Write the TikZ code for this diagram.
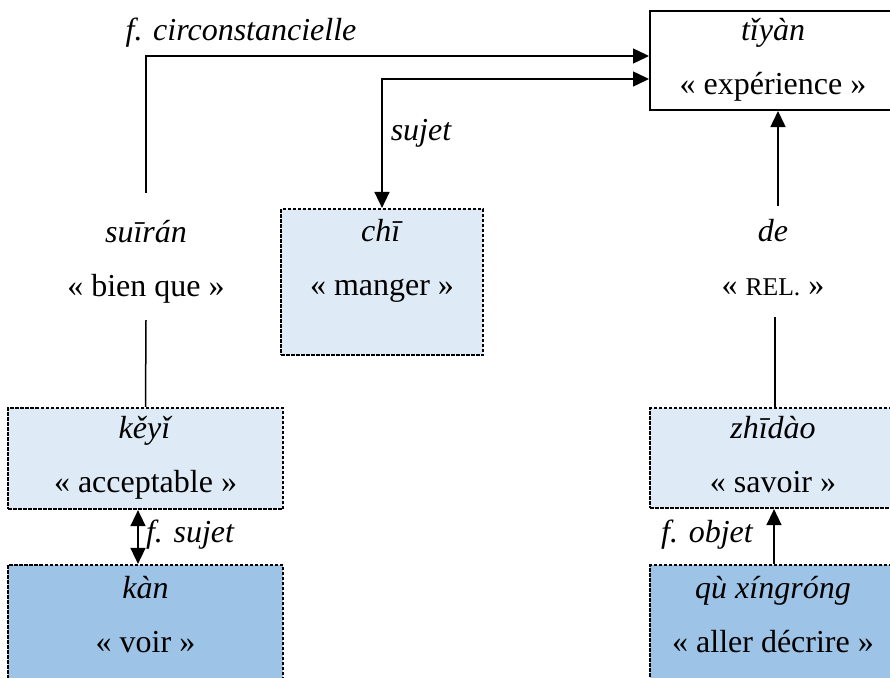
\documentclass[tikz,border=0pt]{standalone}
\usepackage{fontspec}
\setmainfont{Liberation Serif}
\usetikzlibrary{arrows.meta,calc}
\newcommand\stz{\rule[-14pt]{0pt}{42pt}}
\definecolor{lightbox}{HTML}{DEEBF7}
\definecolor{darkbox}{HTML}{9DC3E6}
\begin{document}
\begin{tikzpicture}[x=1pt,y=-1pt,
  txt/.style={font=\fontsize{32}{54}\selectfont, align=center, inner sep=0pt},
  dbox/.style={txt, draw=black, dash pattern=on 3.5pt off 1.5pt, line width=2.2pt},
  light/.style={dbox, fill=lightbox},
  dark/.style={dbox, fill=darkbox},
  lab/.style={font=\fontsize{32}{38}\selectfont\itshape, inner sep=0pt},
  conn/.style={line width=1.5pt},
  tip/.style={},
  arr/.style={conn, -{Triangle[length=16pt,width=15pt]}},
  darr/.style={conn, {Triangle[length=16pt,width=15pt]}-{Triangle[length=16pt,width=15pt]}}]
\path[use as bounding box] (0,0) rectangle (890,677);
\clip (0,0) rectangle (890,677);
\fill[white] (0,0) rectangle (890,677);

% boxes
\node[txt, draw=black, line width=2pt, fill=white, minimum width=246pt, minimum height=99pt] (tiyan) at (773,60.5)
  {\stz\textit{tǐyàn}\\\stz« expérience »};
\node[light, minimum width=202pt, minimum height=146pt] (chi) at (382,282)
  {\stz\textit{chī}\\\rule[-56pt]{0pt}{84pt}« manger »};
\node[light, minimum width=275pt, minimum height=101pt] (keyi) at (145.5,458.5)
  {\stz\textit{kěyǐ}\\\stz« acceptable »};
\node[dark, minimum width=275pt, minimum height=135pt] (kan) at (145.5,632.5)
  {\stz\textit{kàn}\\\rule[-43pt]{0pt}{71pt}« voir »};
\node[light, minimum width=246pt, minimum height=100pt] (zhidao) at (773,458)
  {\stz\textit{zhīdào}\\\stz« savoir »};
\node[dark, minimum width=246pt, minimum height=135pt] (qu) at (773,632.5)
  {\stz\textit{qù xíngróng}\\\rule[-43pt]{0pt}{71pt}« aller décrire »};

% free-standing words
\node[txt, minimum height=127pt] (suiran) at (146,256.5)
  {\rule[-14pt]{0pt}{54pt}\textit{suīrán}\\\stz« bien que »};
\node[txt, minimum height=111pt] (de) at (773,261.5)
  {\stz\textit{de}\\\stz« {\fontsize{25.6}{30}\selectfont REL.} »};

% connectors
\draw[arr] (suiran.north) |- ([yshift=-46pt]tiyan.north west);
\draw[darr] (chi.north) |- ([yshift=-69pt]tiyan.north west);
\draw[conn] (suiran.south) -- (keyi.north);
\draw[darr] ([xshift=-7.5pt]keyi.south) -- ([xshift=-7.5pt]kan.north);
\draw[arr] ([xshift=5pt]de.north) -- ([xshift=5pt]tiyan.south);
\draw[conn] ([xshift=2pt]de.south) -- ([xshift=2pt]zhidao.north);
\draw[arr] ([xshift=1pt]qu.north) -- ([xshift=1pt]zhidao.south);

% labels
\node[lab] (lcirc) at (241,33) {f. circonstancielle};
\node[lab] (lsujet) at (421,133) {sujet};
\node[lab] (lfsujet) at (190,535) {f. sujet};
\node[lab] (lfobjet) at (707,535) {f. objet};
\end{tikzpicture}
\end{document}
